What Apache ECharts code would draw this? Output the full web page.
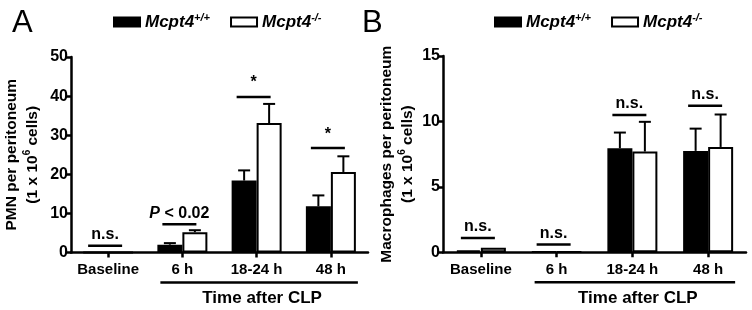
<!DOCTYPE html>
<html><head><meta charset="utf-8">
<script src="https://cdn.jsdelivr.net/npm/echarts@6/dist/echarts.min.js"></script>
<style>html,body{margin:0;padding:0;background:#fff}#c{width:752px;height:310px}</style>
</head><body><div id="c"></div>
<script>
const categories = ['Baseline', '6 h', '18-24 h', '48 h'];
const legendNames = ['Mcpt4+/+', 'Mcpt4-/-'];

// Panel A: PMN per peritoneum
const pmnWT = [0.05, 2.0, 18.4, 11.8];
const pmnWTErr = [0.0, 0.4, 2.6, 2.8];
const pmnKO = [0.05, 5.2, 33.1, 20.6];
const pmnKOErr = [0.0, 0.5, 4.9, 4.0];
const pmnSigY = [1.7, 7.2, 39.8, 26.7];
const pmnSigText = ['n.s.', 'P < 0.02', '*', '*'];
const pmnTicks = [0, 10, 20, 30, 40, 50];

// Panel B: Macrophages per peritoneum
const macWT = [0.15, 0.03, 7.95, 7.75];
const macWTErr = [0.0, 0.0, 1.2, 1.7];
const macKO = [0.35, 0.03, 7.7, 8.05];
const macKOErr = [0.05, 0.0, 2.27, 2.48];
const macSigY = [1.1, 0.6, 10.5, 11.2];
const macSigText = ['n.s.', 'n.s.', 'n.s.', 'n.s.'];
const macTicks = [0, 5, 10, 15];

const FONT = "'Liberation Sans', Arial, sans-serif";
const BAR_W = 25;

const chart = echarts.init(document.getElementById('c'));

function yAxis(gi, ticks, nameRich, gap) {
  return {
    type: 'value', gridIndex: gi, min: ticks[0], max: ticks[ticks.length - 1],
    interval: ticks[1] - ticks[0],
    axisLine: {show: true, lineStyle: {color: '#000', width: 2.5}},
    axisTick: {show: true, length: 5, lineStyle: {color: '#000', width: 2.5}},
    axisLabel: {color: '#000', fontFamily: FONT, fontWeight: 'bold', fontSize: 16, margin: 3},
    splitLine: {show: false},
    name: nameRich, nameLocation: 'middle', nameRotate: 90, nameGap: gap,
    nameTextStyle: {
      color: '#000', fontFamily: FONT, fontWeight: 'bold', fontSize: 15, lineHeight: 21,
      rich: {
        a: {fontFamily: FONT, fontWeight: 'bold', fontSize: 15.5, color: '#000', lineHeight: 21},
        s: {fontFamily: FONT, fontWeight: 'bold', fontSize: 10, color: '#000', verticalAlign: 'top', lineHeight: 12}
      }
    }
  };
}
function xAxis(gi) {
  return {
    type: 'category', gridIndex: gi, data: categories,
    axisLine: {show: true, lineStyle: {color: '#000', width: 2.5}},
    axisTick: {show: true, alignWithLabel: true, length: 5, lineStyle: {color: '#000', width: 2.5}},
    axisLabel: {interval: 0, color: '#000', fontFamily: FONT, fontWeight: 'bold', fontSize: 15, margin: 10}
  };
}
function bars(gi, name, vals, fill) {
  return {
    type: 'bar', name: name, xAxisIndex: gi, yAxisIndex: gi, data: vals,
    barWidth: BAR_W, barGap: '0%', z: 2,
    itemStyle: {color: fill, borderColor: '#000', borderWidth: 2}
  };
}
function errBars(gi, vals, errs, side) {
  return {
    type: 'custom', xAxisIndex: gi, yAxisIndex: gi, z: 3, clip: false, silent: true,
    data: vals.map((v, i) => [i, v, v + errs[i]]),
    renderItem: (params, api) => {
      const c = api.coord([api.value(0), api.value(1)]);
      const t = api.coord([api.value(0), api.value(2)]);
      const x = c[0] + side * BAR_W / 2;
      if (c[1] - t[1] < 1) return {type: 'group', children: []};
      return {type: 'group', children: [
        {type: 'line', shape: {x1: x, y1: c[1], x2: x, y2: t[1]}, style: {stroke: '#000', lineWidth: 2}},
        {type: 'line', shape: {x1: x - 6, y1: t[1], x2: x + 6, y2: t[1]}, style: {stroke: '#000', lineWidth: 2}}
      ]};
    }
  };
}
function sigSeries(gi, ys, texts) {
  return {
    type: 'custom', xAxisIndex: gi, yAxisIndex: gi, z: 4, clip: false, silent: true,
    data: ys.map((y, i) => [i, y]),
    renderItem: (params, api) => {
      const p = api.coord([api.value(0), api.value(1)]);
      const x = p[0] - 3;
      const txt = texts[params.dataIndex];
      const isP = txt.charAt(0) === 'P';
      const isStar = txt === '*';
      return {type: 'group', children: [
        {type: 'line', shape: {x1: x - 17, y1: p[1], x2: x + 17, y2: p[1]}, style: {stroke: '#000', lineWidth: 2.5}},
        {type: 'text', x: x, y: p[1] - (isStar ? 6 : 3), style: {
          text: isP ? '{i|P}{n|' + txt.slice(1) + '}' : txt,
          fill: '#000', fontFamily: FONT, fontWeight: 'bold', fontSize: 16,
          align: 'center', verticalAlign: 'bottom',
          rich: {
            i: {fontFamily: FONT, fontWeight: 'bold', fontStyle: 'italic', fontSize: 16, fill: '#000'},
            n: {fontFamily: FONT, fontWeight: 'bold', fontSize: 16, fill: '#000'}
          }
        }}
      ]};
    }
  };
}
function legend(left) {
  return {
    left: left, top: 12, padding: 0, itemWidth: 26, itemHeight: 9, itemGap: 20, icon: 'rect',
    selectedMode: false, data: legendNames,
    formatter: n => '{b|' + n.slice(0, 5) + '}{s|' + n.slice(5) + '}',
    textStyle: {
      rich: {
        b: {fontFamily: FONT, fontWeight: 'bold', fontStyle: 'italic', fontSize: 17, color: '#000', lineHeight: 20},
        s: {fontFamily: FONT, fontWeight: 'bold', fontStyle: 'italic', fontSize: 11, color: '#000', verticalAlign: 'top', lineHeight: 11}
      }
    },
    itemStyle: {borderColor: '#000', borderWidth: 2}
  };
}

const option = {
  animation: false,
  backgroundColor: '#fff',
  grid: [
    {left: 71, right: 384, top: 57, bottom: 57.5},
    {left: 443, right: 6, top: 56, bottom: 57.7}
  ],
  legend: [legend(113), legend(494)],
  xAxis: [xAxis(0), xAxis(1)],
  yAxis: [
    yAxis(0, pmnTicks, '{a|PMN per peritoneum}\n{a|(1 x 10}{s|6}{a| cells)}', 28),
    yAxis(1, macTicks, '{a|Macrophages per peritoneum}\n{a|(1 x 10}{s|6}{a| cells)}', 25)
  ],
  series: [
    bars(0, legendNames[0], pmnWT, '#000'),
    bars(0, legendNames[1], pmnKO, '#fff'),
    errBars(0, pmnWT, pmnWTErr, -1),
    errBars(0, pmnKO, pmnKOErr, 1),
    sigSeries(0, pmnSigY, pmnSigText),
    bars(1, legendNames[0], macWT, '#000'),
    bars(1, legendNames[1], macKO, '#fff'),
    errBars(1, macWT, macWTErr, -1),
    errBars(1, macKO, macKOErr, 1),
    sigSeries(1, macSigY, macSigText)
  ]
};
chart.setOption(option);

// Panel letters and "Time after CLP" brackets, positioned from the axes
const graphics = [
  {type: 'text', left: 12, top: 8, style: {text: 'A', fontFamily: FONT, fontSize: 31, fill: '#000'}},
  {type: 'text', left: 362, top: 8, style: {text: 'B', fontFamily: FONT, fontSize: 31, fill: '#000'}}
];
[0, 1].forEach(gi => {
  const x1 = chart.convertToPixel({xAxisIndex: gi}, categories[1]) - 22;
  const x2 = chart.convertToPixel({xAxisIndex: gi}, categories[3]) + 27;
  const y0 = chart.convertToPixel({yAxisIndex: gi}, 0);
  graphics.push({type: 'line', shape: {x1: x1, y1: y0 + 30, x2: x2, y2: y0 + 30}, style: {stroke: '#000', lineWidth: 2.5}});
  graphics.push({type: 'text', x: (x1 + x2) / 2 + 3, y: y0 + 46, style: {
    text: 'Time after CLP', fontFamily: FONT, fontWeight: 'bold', fontSize: 17, fill: '#000',
    align: 'center', verticalAlign: 'middle'}});
});
chart.setOption({graphic: graphics});
</script></body></html>
